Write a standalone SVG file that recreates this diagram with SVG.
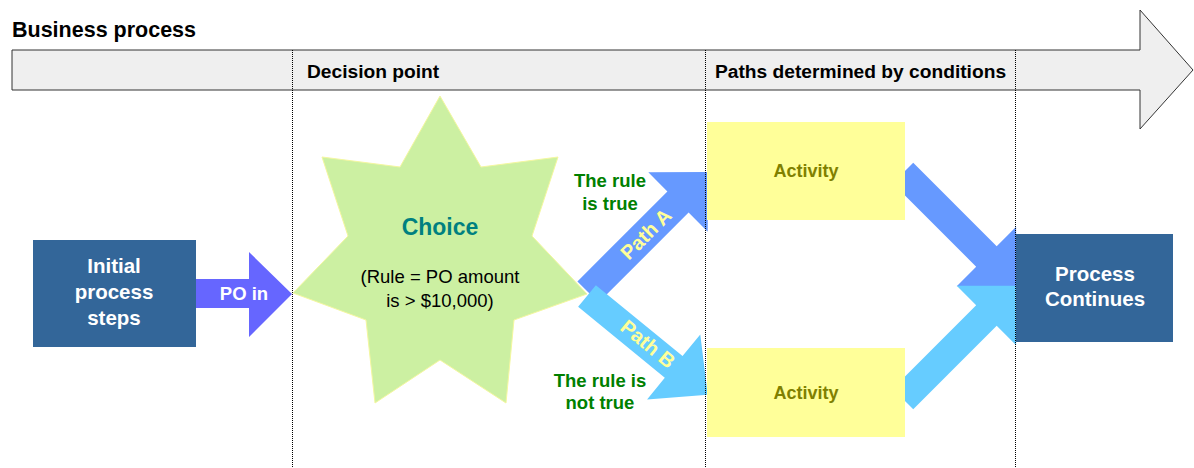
<svg xmlns="http://www.w3.org/2000/svg" width="1194" height="468" viewBox="0 0 1194 468">
<style>
text{font-family:"Liberation Sans",Arial,sans-serif;font-weight:bold}
.w{fill:#ffffff;text-anchor:middle}
.g{fill:#008000;text-anchor:middle;font-size:18.5px}
.act{fill:#ffff99}
.actt{fill:#808000;text-anchor:middle;font-size:18px}
.dark{fill:#336699}
.pl{fill:#ffff99;text-anchor:middle;font-size:20px}
.dot{stroke:#000;stroke-width:1;stroke-dasharray:1 1;fill:none}
</style>
<g id="band">
<polygon points="12,50 1140,50 1140,10 1193,70 1140,129 1140,90 12,90" fill="#efefef" stroke="#333333" stroke-width="1"/>
<text x="12" y="37" font-size="21.5px" fill="#000">Business process</text>
<text x="307" y="78" font-size="19.2px" fill="#000">Decision point</text>
<text x="715" y="78" font-size="19.2px" fill="#000">Paths determined by conditions</text>
</g>
<g id="choice">
<polygon points="440,96 481,167 558,157 532,236 587,294 514,320 506,403 440,360 375,403 366,320 293,293 348,236 322,157 400,167" fill="#ccf0a2" stroke="#f4f7a0" stroke-width="1"/>
<text x="440" y="235" font-size="23px" fill="#008080" text-anchor="middle">Choice</text>
<text x="440" y="283" font-size="18.5px" fill="#000" text-anchor="middle" style="font-weight:normal">(Rule = PO amount</text>
<text x="440" y="307" font-size="18.5px" fill="#000" text-anchor="middle" style="font-weight:normal">is &gt; $10,000)</text>
</g>
<g id="connectors">
<g id="pathA">
<polygon points="577.4,281.4 667.4,191.4 648.3,172.3 708,172 707.7,231.7 688.6,212.6 598.6,302.6" fill="#6699ff"/>
<text class="pl" transform="translate(646,234) rotate(-45)" y="7">Path A</text>
</g>
<g id="pathB">
<polygon points="0,-14 112,-14 112,-42 156,0 112,42 112,14 0,14" fill="#66ccff" transform="translate(587,296) rotate(39.3)"/>
<text class="pl" transform="translate(648,344) rotate(39.3)" y="7">Path B</text>
</g>
<g id="poIn">
<polygon points="196,279 249,279 249,252 292,294 249,337 249,308 196,308" fill="#6666ff"/>
<text x="244" y="300" class="w" font-size="18.5px">PO in</text>
</g>
<polygon id="joinA" points="0,-14.5 118,-14.5 118,-42 160,0 118,42 118,14.5 0,14.5" fill="#6699ff" transform="translate(903,173) rotate(45)"/>
<polygon id="joinB" points="0,-14.5 118,-14.5 118,-42 160,0 118,42 118,14.5 0,14.5" fill="#66ccff" transform="translate(903,399) rotate(-45)"/>
</g>
<g id="initial">
<rect x="33" y="240" width="163" height="107" class="dark"/>
<text x="114" y="273" class="w" font-size="20.5px">Initial</text>
<text x="114" y="299" class="w" font-size="20.5px">process</text>
<text x="114" y="325" class="w" font-size="20.5px">steps</text>
</g>
<g id="activityA">
<rect x="707" y="122" width="198" height="98" class="act"/>
<text x="806" y="177" class="actt">Activity</text>
</g>
<g id="activityB">
<rect x="707" y="348" width="198" height="89" class="act"/>
<text x="806" y="399" class="actt">Activity</text>
</g>
<g id="continues">
<rect x="1016" y="234" width="157" height="108" class="dark"/>
<text x="1095" y="281" class="w" font-size="20.5px">Process</text>
<text x="1095" y="306" class="w" font-size="20.5px">Continues</text>
</g>
<g id="labels">
<text x="610" y="187" class="g">The rule</text>
<text x="610" y="210" class="g">is true</text>
<text x="600" y="387" class="g">The rule is</text>
<text x="600" y="409" class="g">not true</text>
</g>
<g id="dividers">
<line x1="292.5" y1="50" x2="292.5" y2="468" class="dot"/>
<line x1="705.5" y1="50" x2="705.5" y2="468" class="dot"/>
<line x1="1015.5" y1="50" x2="1015.5" y2="468" class="dot"/>
</g>
</svg>
